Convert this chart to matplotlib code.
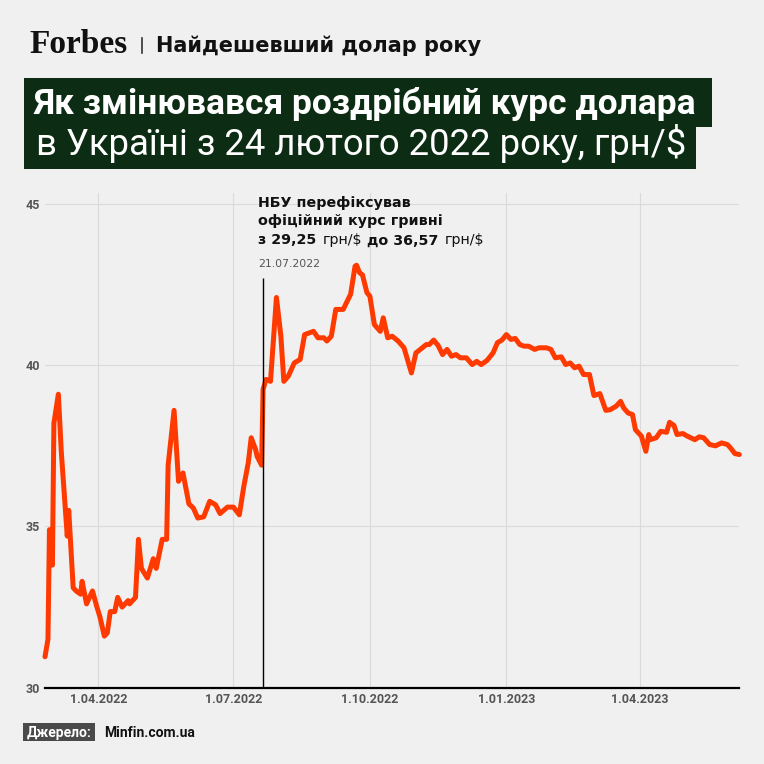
import numpy as np
import pandas as pd
import matplotlib
matplotlib.use("Agg")
from matplotlib import pyplot as plt
from matplotlib.patches import Rectangle
from matplotlib.lines import Line2D

# --- data (retail USD/UAH rate) ---
dates = [
    "2022-02-24", "2022-02-26", "2022-02-27", "2022-03-01", "2022-03-02", "2022-03-05", "2022-03-07", "2022-03-11", "2022-03-12", "2022-03-15",
    "2022-03-17", "2022-03-20", "2022-03-21", "2022-03-24", "2022-03-28", "2022-03-31", "2022-04-02", "2022-04-05", "2022-04-07", "2022-04-09",
    "2022-04-12", "2022-04-14", "2022-04-17", "2022-04-21", "2022-04-22", "2022-04-26", "2022-04-28", "2022-04-30", "2022-05-04", "2022-05-08",
    "2022-05-10", "2022-05-14", "2022-05-17", "2022-05-18", "2022-05-22", "2022-05-25", "2022-05-28", "2022-06-01", "2022-06-04", "2022-06-07",
    "2022-06-11", "2022-06-15", "2022-06-19", "2022-06-22", "2022-06-27", "2022-07-01", "2022-07-05", "2022-07-08", "2022-07-11", "2022-07-13",
    "2022-07-16", "2022-07-17", "2022-07-20", "2022-07-21", "2022-07-23", "2022-07-26", "2022-07-30", "2022-08-02", "2022-08-04", "2022-08-07",
    "2022-08-11", "2022-08-15", "2022-08-18", "2022-08-24", "2022-08-27", "2022-08-31", "2022-09-02", "2022-09-05", "2022-09-08", "2022-09-13",
    "2022-09-18", "2022-09-21", "2022-09-22", "2022-09-24", "2022-09-26", "2022-09-29", "2022-10-01", "2022-10-04", "2022-10-08", "2022-10-10",
    "2022-10-13", "2022-10-16", "2022-10-20", "2022-10-24", "2022-10-27", "2022-10-29", "2022-11-01", "2022-11-04", "2022-11-08", "2022-11-10",
    "2022-11-13", "2022-11-16", "2022-11-19", "2022-11-22", "2022-11-25", "2022-11-28", "2022-12-01", "2022-12-05", "2022-12-09", "2022-12-12",
    "2022-12-15", "2022-12-19", "2022-12-23", "2022-12-26", "2022-12-29", "2023-01-01", "2023-01-04", "2023-01-07", "2023-01-10", "2023-01-13",
    "2023-01-16", "2023-01-20", "2023-01-23", "2023-01-28", "2023-01-31", "2023-02-03", "2023-02-07", "2023-02-10", "2023-02-13", "2023-02-16",
    "2023-02-19", "2023-02-22", "2023-02-26", "2023-03-01", "2023-03-05", "2023-03-09", "2023-03-12", "2023-03-16", "2023-03-19", "2023-03-21",
    "2023-03-24", "2023-03-27", "2023-03-29", "2023-04-02", "2023-04-05", "2023-04-07", "2023-04-08", "2023-04-12", "2023-04-15", "2023-04-19",
    "2023-04-21", "2023-04-24", "2023-04-26", "2023-04-30", "2023-05-03", "2023-05-08", "2023-05-11", "2023-05-14", "2023-05-18", "2023-05-22",
    "2023-05-26", "2023-05-30", "2023-06-01", "2023-06-04", "2023-06-07",
]
rate = [
    30.96, 31.5, 34.9, 33.8, 38.2, 39.1, 37.3, 34.7, 35.5, 33.1,
    33.0, 32.9, 33.3, 32.6, 33.0, 32.5, 32.2, 31.6, 31.7, 32.36,
    32.36, 32.8, 32.5, 32.7, 32.6, 32.8, 34.6, 33.7, 33.4, 34.0,
    33.7, 34.6, 34.6, 36.9, 38.6, 36.4, 36.66, 35.7, 35.57, 35.26,
    35.3, 35.78, 35.67, 35.4, 35.6, 35.6, 35.36, 36.24, 36.97, 37.75,
    37.38, 37.17, 36.9, 39.25, 39.56, 39.5, 42.1, 40.9, 39.5, 39.66,
    40.07, 40.18, 40.95, 41.05, 40.85, 40.85, 40.75, 40.9, 41.73, 41.73,
    42.2, 43.07, 43.1, 42.87, 42.8, 42.25, 42.14, 41.26, 41.05, 41.47,
    40.85, 40.9, 40.75, 40.54, 40.07, 39.76, 40.38, 40.49, 40.64, 40.64,
    40.78, 40.61, 40.33, 40.49, 40.28, 40.33, 40.23, 40.23, 40.02, 40.12,
    40.02, 40.15, 40.38, 40.7, 40.78, 40.95, 40.8, 40.83, 40.64, 40.59,
    40.59, 40.49, 40.54, 40.54, 40.49, 40.23, 40.26, 40.02, 40.07, 39.92,
    39.97, 39.71, 39.71, 39.06, 39.12, 38.6, 38.62, 38.73, 38.88, 38.68,
    38.52, 38.47, 38.0, 37.8, 37.33, 37.85, 37.69, 37.75, 37.95, 37.92,
    38.23, 38.13, 37.85, 37.88, 37.8, 37.69, 37.78, 37.75, 37.54, 37.5,
    37.59, 37.54, 37.44, 37.26, 37.23,
]

y_ticks = [30, 35, 40, 45]
x_tick_dates = ["2022-04-01", "2022-07-01", "2022-10-01", "2023-01-01", "2023-04-01"]
x_tick_labels = ["1.04.2022", "1.07.2022", "1.10.2022", "1.01.2023", "1.04.2023"]

event_date = "2022-07-21"
event_line_top = 42.7
event_label = "21.07.2022"

header_title = "Найдешевший долар року"
title_line1 = "Як змінювався роздрібний курс долара"
title_line2 = "в Україні з 24 лютого 2022 року, грн/$"
note_line1 = "НБУ перефіксував"
note_line2 = "офіційний курс гривні"
note_line3 = [("з 29,25", "bold"), ("грн/$", "normal"), ("до 36,57", "bold"), ("грн/$", "normal")]
source_label = "Джерело:"
source_name = "Minfin.com.ua"

BG = "#f0f0f0"
GREEN = "#0c2d13"
RED = "#ff3a00"
W = H = 764


def fx(px):
    return px / W


def fy(py):
    return 1 - py / H


fig = plt.figure(figsize=(7.64, 7.64), dpi=100, facecolor=BG)

# header
fig.text(fx(29), fy(53.3), "Forbes", family="Liberation Serif", weight="bold",
         fontsize=24, color="#111111", va="baseline")
fig.add_artist(Line2D([fx(141.7), fx(141.7)], [fy(38), fy(53)], transform=fig.transFigure,
                      color="#333333", lw=1.2))
fig.text(fx(156), fy(52.3), header_title, family="DejaVu Sans", weight="bold",
         fontsize=15, color="#111111", va="baseline")

# title block
t_l1 = fig.text(fx(34), fy(114), title_line1, family="Roboto", weight="bold",
                fontsize=25.5, color="white", va="baseline", zorder=5)
t_l2 = fig.text(fx(36), fy(155), title_line2, family="Roboto", weight="normal",
                fontsize=26.3, color="white", va="baseline", zorder=5)

# footer
t_src = fig.text(fx(26.5), fy(736.7), source_label, family="Roboto", weight="bold",
                 fontsize=10, color="white", va="baseline", zorder=5)
fig.text(fx(104), fy(736.7), source_name, family="Roboto", weight="bold",
         fontsize=10, color="#111111", va="baseline")

# chart
ax = fig.add_axes([fx(45), fy(687.7), fx(739.3) - fx(45), (687.7 - 193) / H])
ax.set_facecolor(BG)
ax.plot(pd.to_datetime(dates), rate, color=RED, lw=3.6, solid_joinstyle="round",
        solid_capstyle="round", zorder=3, clip_on=False)
ax.vlines(pd.Timestamp(event_date), y_ticks[0], event_line_top, color="black", lw=1.0, zorder=4)

ax.set_xlim(pd.Timestamp(dates[0]), pd.Timestamp(dates[-1]))
ax.set_ylim(30, 45.34)
ax.set_yticks(y_ticks)
ax.set_yticklabels([str(v) for v in y_ticks])
ax.set_xticks(pd.to_datetime(x_tick_dates))
ax.set_xticklabels(x_tick_labels)
ax.grid(True, color="#dadada", lw=0.8)
ax.set_axisbelow(True)
for s in ["top", "right", "left"]:
    ax.spines[s].set_visible(False)
ax.spines["bottom"].set_color("black")
ax.spines["bottom"].set_linewidth(1.6)
ax.spines["bottom"].set_zorder(5)
ax.tick_params(axis="both", length=0, labelsize=9, labelcolor="#555555")
ax.tick_params(axis="x", pad=4.0)
ax.tick_params(axis="y", pad=3.4)
for lab in ax.get_xticklabels() + ax.get_yticklabels():
    lab.set_fontfamily("Roboto")
    lab.set_fontweight("bold")

# annotation next to the event line
note_size = 10.3
note_kw = dict(family="DejaVu Sans", fontsize=note_size, color="#111111", va="baseline")
fig.text(fx(258.5), fy(206.7), note_line1, weight="bold", **note_kw)
fig.text(fx(258.5), fy(225.3), note_line2, weight="bold", **note_kw)
prev = fig.text(fx(258.5), fy(244.3), note_line3[0][0], weight=note_line3[0][1], **note_kw)
for piece, wt in note_line3[1:]:
    prev = ax.annotate(piece, xy=(1, 0), xycoords=prev, xytext=(4.0, 0), textcoords="offset points",
                       ha="left", va="bottom", family="DejaVu Sans", fontsize=note_size, fontweight=wt,
                       color="#111111", annotation_clip=False)
fig.text(fx(258.5), fy(266.7), event_label, family="DejaVu Sans", fontsize=7.8,
         color="#555555", va="baseline")

# boxes sized from the rendered text
fig.canvas.draw()
bb1 = t_l1.get_window_extent()
bb2 = t_l2.get_window_extent()
bbs = t_src.get_window_extent()
fig.add_artist(Rectangle((fx(24), fy(126.7)), (bb1.x1 + 15) / W - fx(24), (126.7 - 78.3) / H,
                         transform=fig.transFigure, fc=GREEN, ec="none", zorder=1))
fig.add_artist(Rectangle((fx(24), fy(169.3)), (bb2.x1 + 10) / W - fx(24), (169.3 - 126.7) / H,
                         transform=fig.transFigure, fc=GREEN, ec="none", zorder=1))
fig.add_artist(Rectangle((fx(22.7), fy(741)), (bbs.x1 + 4) / W - fx(22.7), (741 - 723.3) / H,
                         transform=fig.transFigure, fc="#4a4a4a", ec="none", zorder=1))

fig.savefig("out.png", dpi=100, facecolor=BG)
